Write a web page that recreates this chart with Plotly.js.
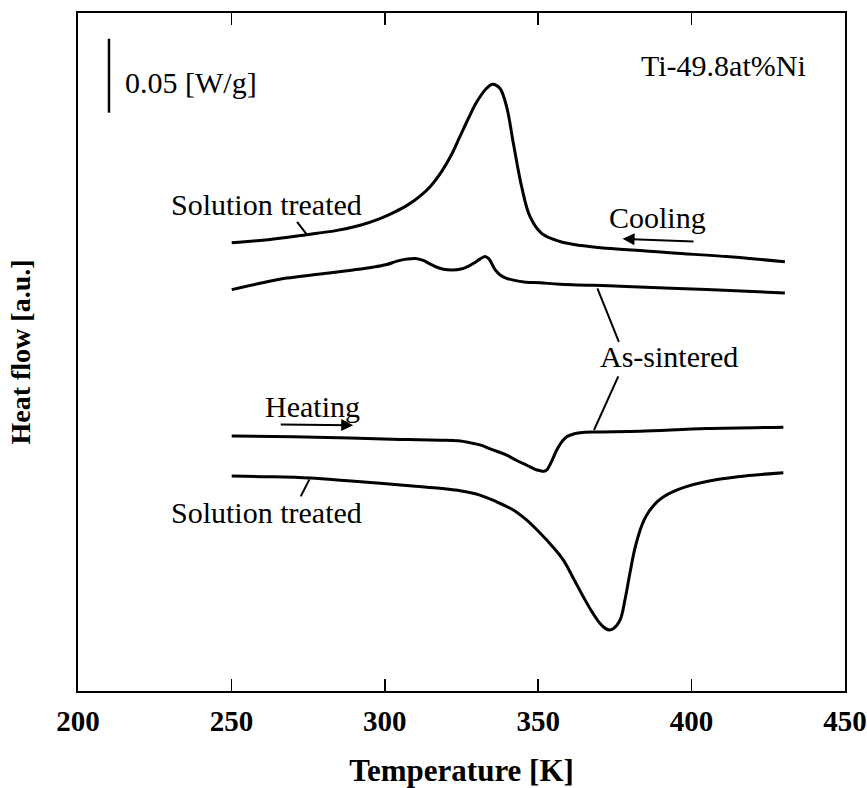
<!DOCTYPE html>
<html>
<head>
<meta charset="utf-8">
<script src="https://cdn.plot.ly/plotly-3.0.1.min.js"></script>
<style>html,body{margin:0;padding:0;background:#fff;}#chart{width:867px;height:788px;}</style>
</head>
<body>
<div id="chart"></div>
<script>
// Temperature [K] and heat flow [a.u.]
const stCoolT = [250.1, 262.6, 274.5, 284, 292, 298, 303, 307.5, 311.5, 315, 318.5, 321.5, 324.5, 327.2, 330.0, 333.2, 335.2, 337.5, 339.7, 341.9, 344.6, 347.3, 351.1, 357.1, 364, 372.3, 385, 394.0, 413.6, 430.4];
const stCoolH = [66.1, 66.6, 67.3, 67.9, 68.7, 69.6, 70.6, 71.7, 73.0, 74.5, 76.6, 78.9, 81.8, 84.4, 86.9, 88.9, 89.5, 88.9, 86.2, 80.8, 74.4, 70.0, 67.5, 66.3, 65.7, 65.3, 64.9, 64.6, 64.0, 63.3];

const asCoolT = [250.1, 259, 268.0, 279, 289.7, 296, 300.6, 304, 307.1, 310.0, 312.5, 314.7, 317, 319.1, 322, 324.5, 327, 329, 331, 332.7, 333.8, 334.8, 336, 337.5, 339.5, 341.9, 346, 350.6, 357.1, 376.7, 404.9, 430.4];
const asCoolH = [59.2, 60.1, 60.9, 61.5, 62.1, 62.5, 62.9, 63.4, 63.7, 63.8, 63.5, 63.0, 62.5, 62.2, 62.1, 62.2, 62.6, 63.1, 63.7, 64.1, 63.8, 63.1, 62.1, 61.4, 60.9, 60.6, 60.3, 60.2, 60.0, 59.7, 59.2, 58.7];

const asHeatT = [250.1, 270.2, 288.7, 305, 318.0, 324, 328, 331.0, 335, 339.7, 343, 346.3, 349, 350.6, 351.8, 352.8, 354.3, 356.0, 357.6, 359.3, 361.5, 363.6, 370, 383.2, 404.9, 429.9];
const asHeatH = [37.6, 37.5, 37.3, 37.1, 37.0, 36.9, 36.6, 36.3, 35.6, 34.8, 34.0, 33.3, 32.7, 32.5, 32.4, 32.6, 33.8, 35.5, 36.7, 37.5, 37.9, 38.1, 38.2, 38.3, 38.7, 38.9];

const stHeatT = [250.1, 262, 275.6, 288, 299.5, 310, 318, 325, 331, 336, 341.9, 346, 350.6, 354.5, 358.2, 361.5, 364.7, 367.5, 370.1, 372, 373.2, 374.5, 376.7, 378.3, 379.9, 381.5, 383.2, 384.5, 386, 387.5, 389, 391, 394, 398, 404.9, 415, 429.9];
const stHeatH = [31.7, 31.6, 31.4, 31.0, 30.6, 30.2, 29.9, 29.5, 28.9, 28.0, 26.7, 25.3, 23.3, 21.4, 19.3, 16.6, 13.9, 11.7, 10.0, 9.2, 9.0, 9.2, 10.5, 13.5, 17.4, 21.0, 23.7, 25.2, 26.4, 27.3, 28.0, 28.7, 29.4, 30.1, 30.9, 31.6, 32.2];

const xTicks = [200, 250, 300, 350, 400, 450];
const seriesNames = ["Solution treated (cooling)", "As-sintered (cooling)", "As-sintered (heating)", "Solution treated (heating)"];

const serif = "Liberation Serif, Times New Roman, serif";
const lineStyle = {color: "#000", width: 3, shape: "spline", smoothing: 1};

const traces = [
  {x: stCoolT, y: stCoolH, name: seriesNames[0]},
  {x: asCoolT, y: asCoolH, name: seriesNames[1]},
  {x: asHeatT, y: asHeatH, name: seriesNames[2]},
  {x: stHeatT, y: stHeatH, name: seriesNames[3]}
].map(t => Object.assign(t, {type: "scatter", mode: "lines", line: lineStyle, hoverinfo: "x+y+name"}));

const txt = (text, x, y) => ({text, x, y, xref: "x", yref: "y", showarrow: false,
  xanchor: "center", yanchor: "middle", font: {family: serif, size: 30, color: "#000"}});

const arrow = (x0, y0, x1, y1) => ({text: "", x: x1, y: y1, ax: x0, ay: y0, xref: "x", yref: "y",
  axref: "x", ayref: "y", showarrow: true, arrowhead: 2, arrowsize: 1.2, arrowwidth: 2, arrowcolor: "#000", standoff: 0});

const seg = (x0, y0, x1, y1, w) => ({type: "line", xref: "x", yref: "y", x0, y0, x1, y1,
  line: {color: "#000", width: w || 2}});

const layout = {
  width: 867, height: 788,
  margin: {l: 78, r: 22, t: 13, b: 97},
  paper_bgcolor: "#fff", plot_bgcolor: "#fff",
  showlegend: false,
  xaxis: {
    range: [200, 450], tickvals: xTicks, ticktext: xTicks.map(String),
    ticks: "inside", ticklen: 12, tickwidth: 1.5, tickcolor: "#000",
    showline: true, linecolor: "#000", linewidth: 2, mirror: "ticks",
    showgrid: false, zeroline: false,
    tickfont: {family: serif, size: 29, color: "#000", weight: "bold"},
    ticklabelstandoff: 3,
    title: {text: "<b>Temperature [K]</b>", font: {family: serif, size: 31, color: "#000"}, standoff: 28}
  },
  yaxis: {
    range: [0, 100], showticklabels: false, ticks: "",
    showline: true, linecolor: "#000", linewidth: 2, mirror: true,
    showgrid: false, zeroline: false,
    title: {text: "<b>Heat flow [a.u.]</b>", font: {family: serif, size: 28, color: "#000"}, standoff: 37}
  },
  shapes: [
    seg(210.1, 96.2, 210.1, 85.3, 2.5),
    seg(271.4, 69.2, 274.6, 67.3),
    seg(369.3, 59.4, 376.3, 51.5),
    seg(376.1, 46.4, 368.2, 38.5),
    seg(275.4, 31.2, 272.6, 28.7)
  ],
  annotations: [
    txt("0.05 [W/g]", 236.8, 89.8),
    txt("Ti-49.8at%Ni", 410.4, 92.3),
    txt("Solution treated", 261.5, 71.7),
    txt("Cooling", 388.9, 69.8),
    txt("As-sintered", 392.6, 49.3),
    txt("Heating", 276.3, 42.0),
    txt("Solution treated", 261.3, 26.3),
    arrow(401.1, 66.3, 377.5, 66.7),
    arrow(265.6, 39.3, 289.7, 39.2)
  ]
};

Plotly.newPlot("chart", traces, layout, {displayModeBar: false, staticPlot: true});
</script>
</body>
</html>
